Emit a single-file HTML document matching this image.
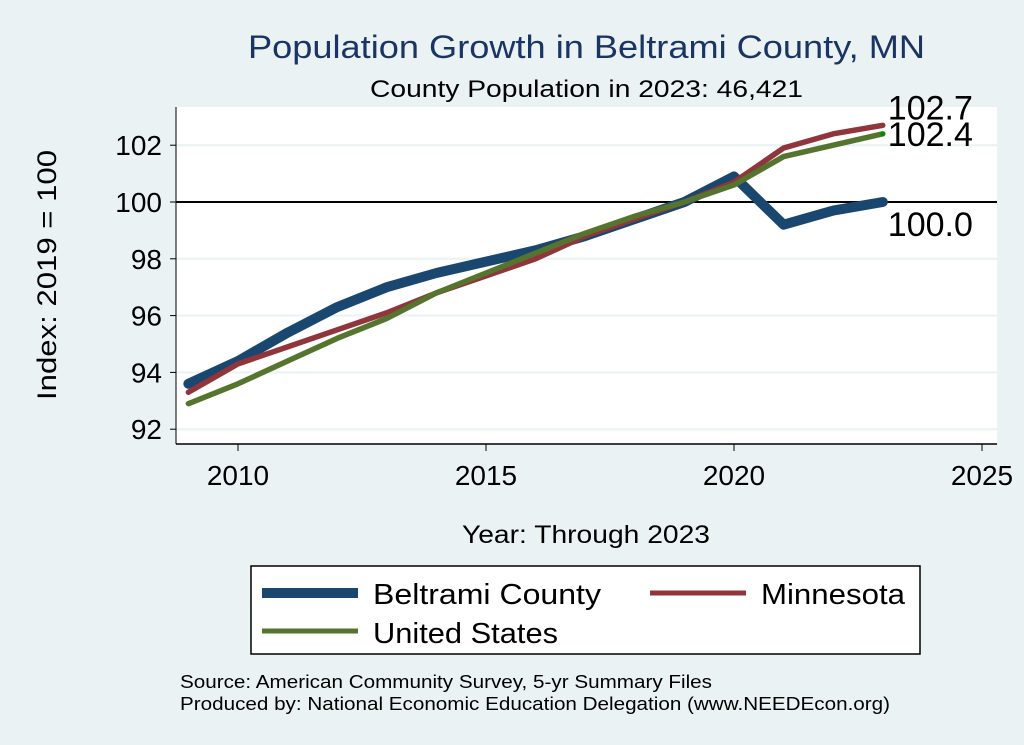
<!DOCTYPE html>
<html><head><meta charset="utf-8"><style>
body{margin:0;background:#eaf2f3;}
svg{display:block;font-family:"Liberation Sans",sans-serif;}
</style></head><body>
<svg id="chart" width="1024" height="745">
<rect width="1024" height="745" fill="#eaf2f3"/>
<rect x="176" y="107" width="821" height="337" fill="#ffffff"/>
<g id="grid"></g>
<g id="axes"></g>
<g id="series"></g>
<text x="248" y="58" font-size="32" textLength="677" lengthAdjust="spacingAndGlyphs" fill="#1a3564">Population Growth in Beltrami County, MN</text>
<text x="370" y="97" font-size="24" textLength="433" lengthAdjust="spacingAndGlyphs" fill="#000">County Population in 2023: 46,421</text>
<text transform="translate(56,400) rotate(-90)" font-size="27" textLength="250" lengthAdjust="spacingAndGlyphs" fill="#000">Index: 2019 = 100</text>
<text x="462" y="543" font-size="25" textLength="248" lengthAdjust="spacingAndGlyphs" fill="#000">Year: Through 2023</text>
<g>
<rect x="251" y="566" width="669" height="88" fill="#fff" stroke="#000" stroke-width="1.5"/>
<line x1="262" y1="593" x2="358" y2="593" stroke="#1a476f" stroke-width="10"/>
<text x="373" y="604" font-size="29" textLength="228" lengthAdjust="spacingAndGlyphs">Beltrami  County</text>
<line x1="650" y1="593" x2="746" y2="593" stroke="#90353b" stroke-width="5"/>
<text x="761" y="604" font-size="29" textLength="144" lengthAdjust="spacingAndGlyphs">Minnesota</text>
<line x1="262" y1="631" x2="358" y2="631" stroke="#55752f" stroke-width="5"/>
<text x="373" y="643" font-size="29" textLength="185" lengthAdjust="spacingAndGlyphs">United States</text>
</g>
<text x="180" y="688" font-size="18" textLength="532" lengthAdjust="spacingAndGlyphs">Source: American Community Survey, 5-yr Summary Files</text>
<text x="180" y="710" font-size="18" textLength="710" lengthAdjust="spacingAndGlyphs">Produced by: National Economic Education Delegation (www.NEEDEcon.org)</text>
</svg>
<script>
const years=[2009,2010,2011,2012,2013,2014,2015,2016,2017,2018,2019,2020,2021,2022,2023];
const beltrami=[93.6,94.4,95.4,96.3,97.0,97.5,97.9,98.3,98.8,99.4,100.0,100.9,99.2,99.7,100.0];
const minnesota=[93.3,94.3,94.9,95.5,96.1,96.8,97.4,98.0,98.8,99.4,100.0,100.7,101.9,102.4,102.7];
const unitedStates=[92.9,93.6,94.4,95.2,95.9,96.8,97.5,98.2,98.9,99.5,100.0,100.6,101.6,102.0,102.4];
const yTicks=[92,94,96,98,100,102];
const xTicks=[2010,2015,2020,2025];
const NS='http://www.w3.org/2000/svg';
function X(v){return 238+(v-2010)*49.6;}
function Y(v){return 202-(v-100)*28.4;}
function mk(tag,attrs,parent){const e=document.createElementNS(NS,tag);for(const k in attrs)e.setAttribute(k,attrs[k]);parent.appendChild(e);return e;}
const grid=document.getElementById('grid'),axes=document.getElementById('axes'),ser=document.getElementById('series');
yTicks.forEach(t=>{
 const g=mk('line',{x1:176,x2:997,y1:Y(t),y2:Y(t),stroke:'#eaf2f3','stroke-width':2},grid);
 
 
 mk('line',{x1:170,x2:176,y1:Y(t),y2:Y(t),stroke:'#000','stroke-width':1},axes);
 const tx=mk('text',{x:162,y:Y(t)+10,'text-anchor':'end','font-size':28},axes);
 tx.textContent=t;
 
 
});
xTicks.forEach(t=>{
 mk('line',{x1:X(t),x2:X(t),y1:444,y2:451,stroke:'#000','stroke-width':1},axes);
 const tx=mk('text',{x:X(t),y:485,'text-anchor':'middle','font-size':28},axes);
 tx.textContent=t;
 
 
});
mk('line',{x1:176,x2:176,y1:107,y2:444,stroke:'#000','stroke-width':1},axes);
mk('line',{x1:176,x2:997,y1:444,y2:444,stroke:'#000','stroke-width':1.5},axes);
const ref=mk('line',{x1:176,x2:997,y1:Y(100),y2:Y(100),stroke:'#000','stroke-width':2},axes);


function path(vals,color,w,name){
 const d=vals.map((v,i)=>(i?'L':'M')+X(years[i])+','+Y(v)).join('');
 const p=mk('path',{d:d,fill:'none',stroke:color,'stroke-width':w,'stroke-linejoin':'round','stroke-linecap':'round'},ser);
 
 
}
path(beltrami,'#1a476f',10,'line-beltrami');
path(minnesota,'#90353b',5.5,'line-minnesota');
path(unitedStates,'#55752f',5.5,'line-united-states');
const last=years.length-1;
const dot=mk('circle',{cx:X(years[last]),cy:Y(unitedStates[last]),r:2.5,fill:'#0a8a0a'},ser);


[[minnesota,-6,'label-minnesota'],[unitedStates,12,'label-us'],[beltrami,34,'label-beltrami']].forEach(([s,dy,n])=>{
 const tx=mk('text',{x:X(years[last])+5,y:Y(s[last])+dy,'font-size':34},ser);
 tx.textContent=s[last].toFixed(1);
 
 
});
</script>
</body></html>
